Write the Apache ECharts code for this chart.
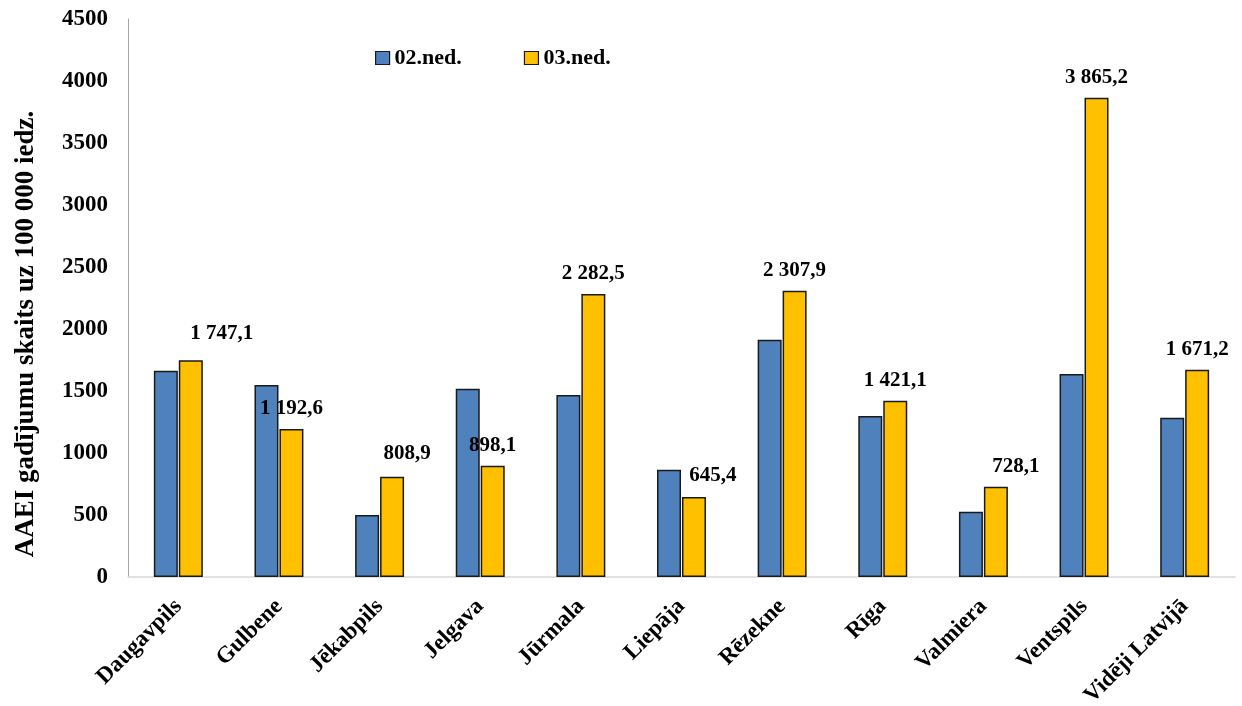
<!DOCTYPE html>
<html>
<head>
<meta charset="utf-8">
<script src="https://cdn.jsdelivr.net/npm/echarts@6/dist/echarts.min.js"></script>
<style>
  html, body { margin: 0; padding: 0; background: #fff; }
  #chart { width: 1242px; height: 706px; }
</style>
</head>
<body>
<div id="chart"></div>
<script>
// kategorijas (pilsētas)
const cities = ["Daugavpils", "Gulbene", "Jēkabpils", "Jelgava", "Jūrmala", "Liepāja",
  "Rēzekne", "Rīga", "Valmiera", "Ventspils", "Vidēji Latvijā"];
// 02.ned. vērtības (nolasītas no attēla)
const week02 = [1664, 1548, 500, 1519, 1468, 865, 1914, 1298, 527, 1637, 1285];
// 03.ned. vērtības
const week03 = [1747.1, 1192.6, 808.9, 898.1, 2282.5, 645.4, 2307.9, 1421.1, 728.1, 3865.2, 1671.2];
const seriesNames = ["02.ned.", "03.ned."];
// etiķešu nobīdes (tikai noformējums)
const labelNudge = [[31, -6], [0, 0], [15, -3], [0, 0], [0, 0], [19, -1], [0, 0], [0, 0], [20, 0], [0, 0], [0, 0]];

const font = "'Liberation Serif', 'Times New Roman', serif";

function fmt(v) {
  let s = v.toFixed(1).split(".");
  let int = s[0].replace(/\B(?=(\d{3})+(?!\d))/g, " ");
  return int + "," + s[1];
}

let chart = echarts.init(document.getElementById("chart"));
let option = {
  animation: false,
  grid: { left: 128, right: 7, top: 19, bottom: 129, outerBoundsMode: "none" },
  legend: {
    top: 42,
    left: 370,
    icon: "rect",
    itemWidth: 14,
    itemHeight: 13,
    itemGap: 62,
    data: seriesNames,
    itemStyle: { borderColor: "#1a1a1a", borderWidth: 1.2 },
    textStyle: { fontFamily: font, fontWeight: "bold", fontSize: 22, color: "#000" },
  },
  xAxis: {
    type: "category",
    data: cities,
    axisLine: { lineStyle: { color: "#d9d9d9", width: 1.5 } },
    axisTick: { show: false },
    axisLabel: {
      rotate: 45,
      interval: 0,
      margin: 26,
      fontFamily: font,
      fontWeight: "bold",
      fontSize: 23,
      color: "#000",
    },
  },
  yAxis: {
    type: "value",
    min: 0,
    max: 4500,
    interval: 500,
    name: "AAEI gadījumu skaits uz 100 000 iedz.",
    nameLocation: "middle",
    nameGap: 88,
    nameTextStyle: {
      fontFamily: font,
      fontWeight: "bold",
      fontSize: 27,
      color: "#000",
      padding: [0, 72, 0, 0],
    },
    splitLine: { show: false },
    axisLine: { show: true, lineStyle: { color: "#a6a6a6", width: 1 } },
    axisTick: { show: false },
    axisLabel: {
      margin: 20,
      fontFamily: font,
      fontWeight: "bold",
      fontSize: 23,
      color: "#000",
      formatter: (v) => String(v),
    },
  },
  series: [
    {
      name: seriesNames[0],
      type: "bar",
      barWidth: 24,
      barGap: "4%",
      data: week02,
      itemStyle: { color: "#4f81bd", borderColor: "#1a1a1a", borderWidth: 1.5 },
    },
    {
      name: seriesNames[1],
      type: "bar",
      barWidth: 24,
      data: week03.map((v, i) => ({
        value: v,
        label: { offset: labelNudge[i] },
      })),
      itemStyle: { color: "#ffc000", borderColor: "#1a1a1a", borderWidth: 1.5 },
      label: {
        show: true,
        position: "top",
        distance: 10,
        fontFamily: font,
        fontWeight: "bold",
        fontSize: 21,
        color: "#000",
        formatter: (p) => fmt(p.value),
      },
    },
  ],
};
chart.setOption(option);
</script>
</body>
</html>
